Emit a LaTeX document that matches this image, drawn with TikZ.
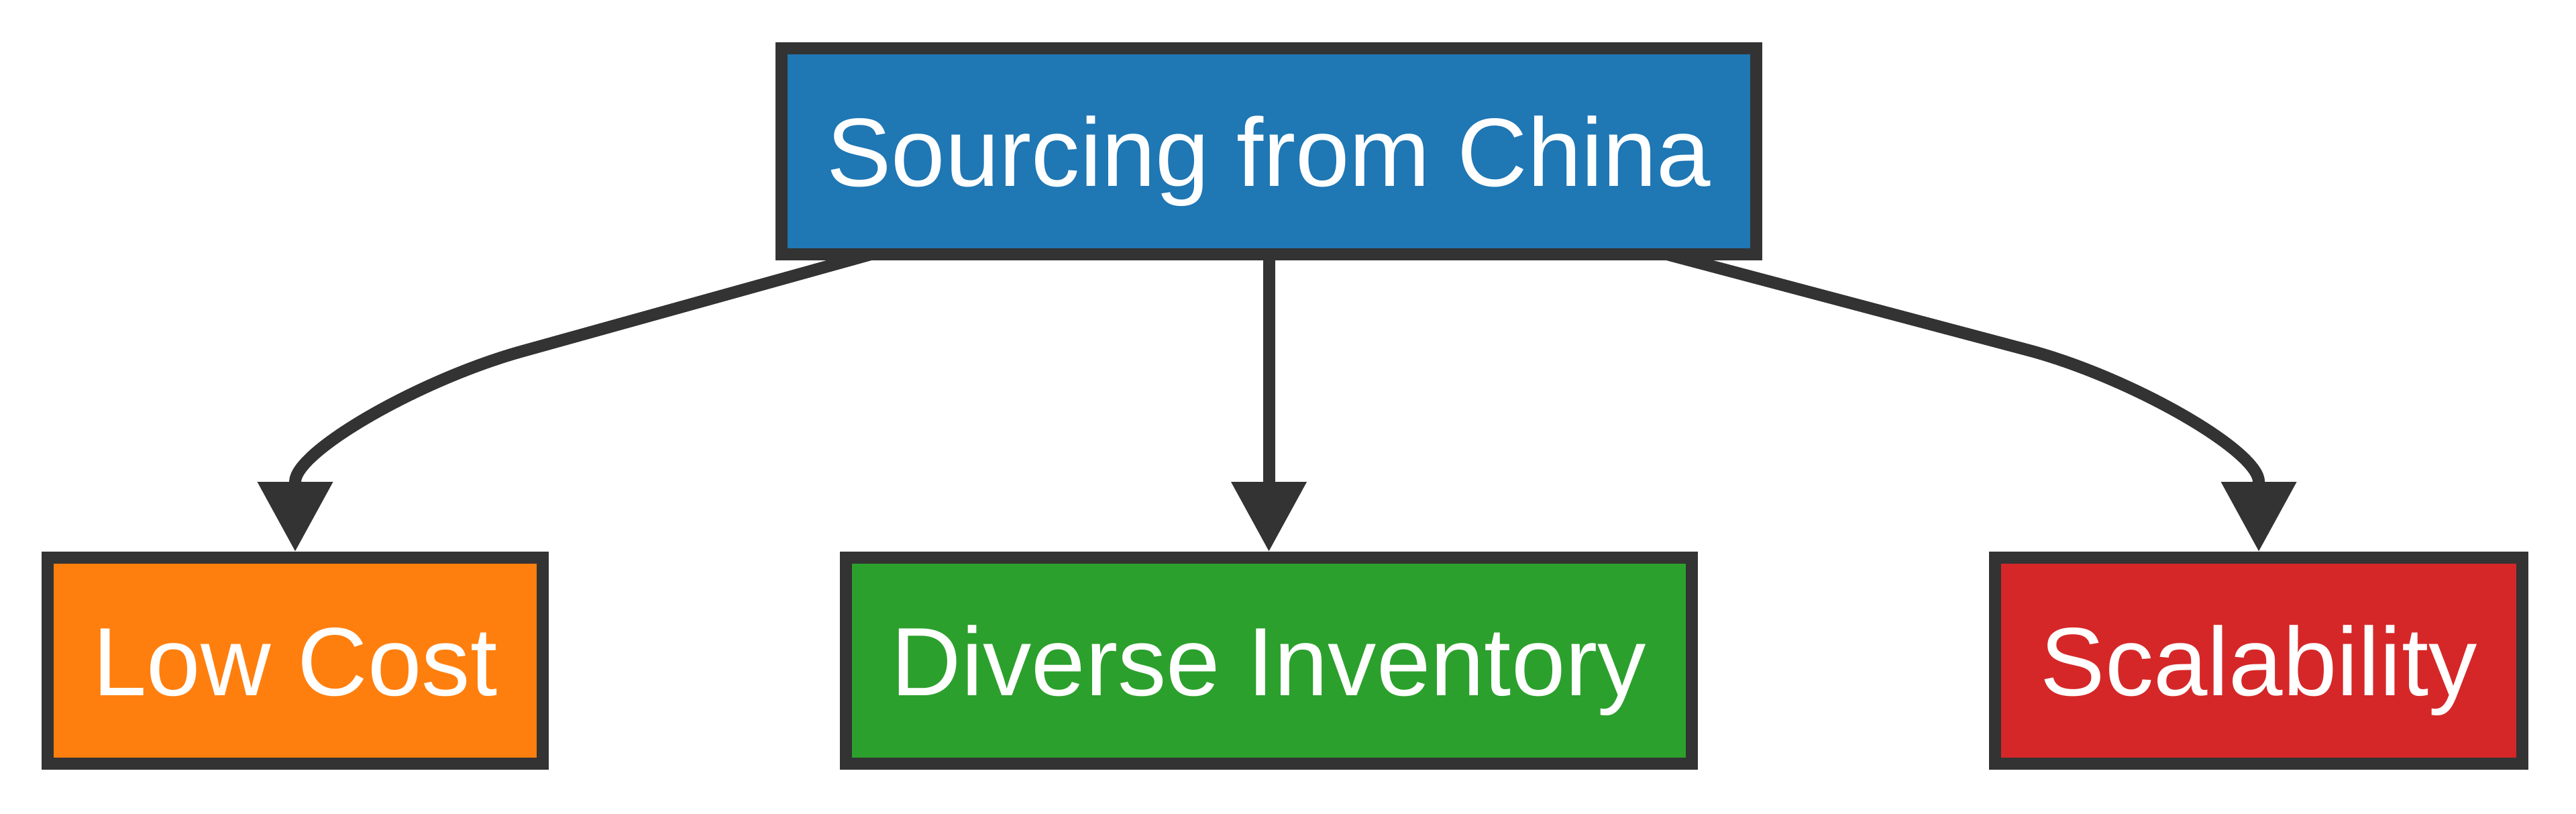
\documentclass[tikz,border=0pt]{standalone}
\usepackage{fontspec}
\setmainfont{Liberation Sans}
\usetikzlibrary{arrows.meta, positioning}
\definecolor{my_blue}{RGB}{31, 119, 180}
\definecolor{my_orange}{RGB}{255, 127, 14}
\definecolor{my_green}{RGB}{44, 160, 44}
\definecolor{my_red}{RGB}{214, 39, 40}
\definecolor{my_dark}{RGB}{51, 51, 51}
\tikzset {
  box/.style = {draw=my_dark, line width=0.18cm, rectangle, text=white, minimum height=3.07cm, inner xsep=0.677cm, inner ysep=0pt, outer sep=0pt, text height=1.035cm, text depth=0pt, font=\fontsize{41.15pt}{49pt}\selectfont},
  line/.style = {-{Triangle[width=1.08cm, length=1.04cm]}, line width=0.18cm, color=my_dark},
}

\begin{document}
\begin{tikzpicture}
    \useasboundingbox (0,0) rectangle (38.40,-12.13);

    \node[box, fill=my_blue, name=src] (src) at (18.915,-2.255) {Sourcing from China};

    \node[box, fill=my_green, name=div, below=4.52cm of src] (div) {Diverse Inventory};
    \node[box, fill=my_orange, name=low, left=4.52cm of div] (low) {Low Cost};
    \node[box, fill=my_red, name=scal, right=4.52cm of div] (scal) {Scalability};

    \draw[line] ([xshift=-5.935cm]src.south) -- ++(-5.18,-1.44) .. controls +(-1.53,-0.42) and +(0,0.455) .. ([yshift=1.13cm]low.north) -- ([yshift=0.09cm]low.north);
    \draw[line] (src.south) -- ([yshift=0.09cm]div.north);
    \draw[line] ([xshift=5.935cm]src.south) -- ++(5.43,-1.44) .. controls +(1.53,-0.42) and +(0,0.455) .. ([yshift=1.13cm]scal.north) -- ([yshift=0.09cm]scal.north);

\end{tikzpicture}
\end{document}
